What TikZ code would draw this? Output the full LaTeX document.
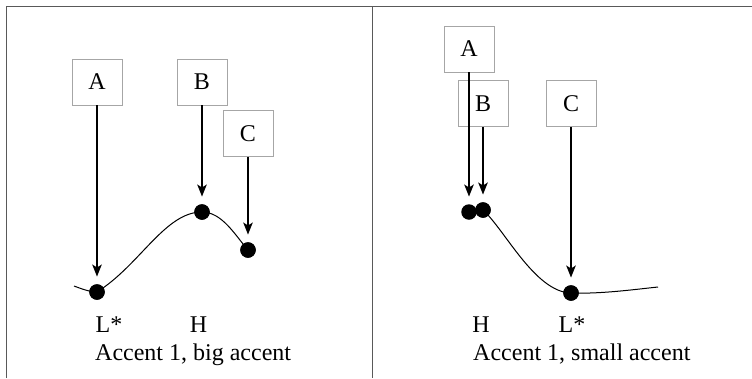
\documentclass[tikz,border=0pt]{standalone}
\usepackage{fontspec}
\setmainfont{Liberation Serif}
\usetikzlibrary{arrows.meta}
\begin{document}
\begin{tikzpicture}[x=1pt,y=-1pt,
  frame/.style={draw=black!65,line width=1.5pt},
  letterbox/.style={draw=black!35,line width=0.8pt,minimum width=50pt,minimum height=46pt,inner sep=0pt,font=\fontsize{24}{27}\selectfont},
  dot/.style={circle,fill=black,minimum size=15.5pt,inner sep=0pt},
  pointer/.style={line width=2pt,-{Stealth[length=12pt,width=9.5pt,inset=3pt]},shorten >=7.5pt},
  contour/.style={line width=1pt},
  lbl/.style={font=\fontsize{24}{27}\selectfont,inner sep=0pt}
]
\useasboundingbox (0,0) rectangle (752,378);
% frame
\draw[frame] (6.7,378) -- (6.7,6.7) -- (752,6.7);
\draw[frame] (372.5,6.7) -- (372.5,378);

% ---------- left panel ----------
\node[letterbox] (A1) at (97,82) {A};
\node[letterbox] (B1) at (202,82) {B};
\node[letterbox] (C1) at (248,133.5) {C};
\coordinate (S1) at (74,286);
\node[dot] (L1) at (97,292) {};
\node[dot] (H1) at (202,212) {};
\node[dot] (E1) at (248,250) {};
\draw[contour] (S1) .. controls (82,289) and (90,292) .. (L1.center)
  .. controls (140,265) and (165,212) .. (H1.center)
  .. controls (222,212) and (235,235) .. (E1.center);
\node[dot] at (L1) {};
\node[dot] at (H1) {};
\node[dot] at (E1) {};
\draw[pointer] (A1.south) -- (L1.north);
\draw[pointer] (B1.south) -- (H1.north);
\draw[pointer] (C1.south) -- (E1.north);
\node[lbl,anchor=base] (tL1) at (109,332) {L*};
\node[lbl,anchor=base] (tH1) at (198.5,332) {H};
\node[lbl,anchor=base west] (cap1) at (95,360) {Accent 1, big accent};

% ---------- right panel ----------
\node[letterbox] (A2) at (469,49) {A};
\node[letterbox] (B2) at (483,103.5) {B};
\node[letterbox] (C2) at (571,103.5) {C};
\node[dot] (H2a) at (469,212) {};
\node[dot] (H2b) at (483,210) {};
\node[dot] (L2) at (571,293) {};
\coordinate (E2) at (658,287);
\draw[contour] (H2b.center) .. controls (505,230) and (535,292) .. (L2.center)
  .. controls (600,294) and (630,290) .. (E2);
\node[dot] at (H2b) {};
\node[dot] at (L2) {};
\draw[pointer] (A2.south) -- (H2a.north);
\draw[pointer] (B2.south) -- (H2b.north);
\draw[pointer] (C2.south) -- (L2.north);
\node[lbl,anchor=base] (tH2) at (481,332) {H};
\node[lbl,anchor=base] (tL2) at (572,332) {L*};
\node[lbl,anchor=base west] (cap2) at (473,360) {Accent 1, small accent};
\end{tikzpicture}
\end{document}
